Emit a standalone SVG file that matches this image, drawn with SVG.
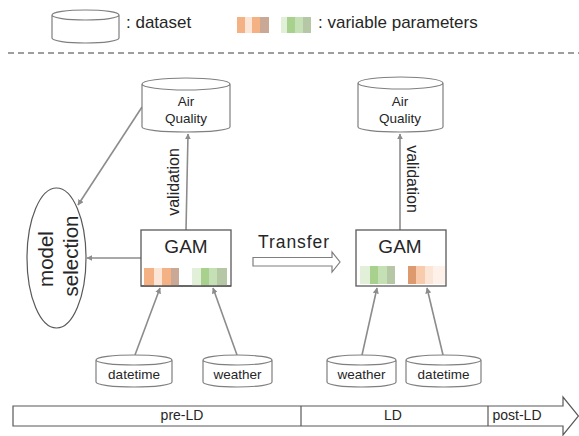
<svg xmlns="http://www.w3.org/2000/svg" width="579" height="436" viewBox="0 0 579 436">
<style>
.cyl{fill:#fff;stroke:#7f7f7f;stroke-width:1.2}
.t{font-family:"Liberation Sans",Arial,sans-serif;fill:#262626}
.conn{stroke:#8c8c8c;stroke-width:1.6;fill:none;marker-end:url(#ah)}
.box{fill:#fff;stroke:#595959;stroke-width:1.3}
</style>
<defs>
<marker id="ah" viewBox="0 0 10 10" refX="9" refY="5" markerWidth="6" markerHeight="6" orient="auto" markerUnits="userSpaceOnUse">
<path d="M0,0 L10,5 L0,10 Z" fill="#8c8c8c"/>
</marker>
</defs>
<rect width="579" height="436" fill="#fff"/>
<g id="legend">
<path class="cyl" d="M52,15 V38 A33.5,5 0 0 0 119,38 V15 A33.5,5 0 0 0 52,15 Z M52,15 A33.5,5 0 0 0 119,15"/>
<text class="t" x="126" y="28" font-size="17">: dataset</text>
<rect x="237" y="17" width="8" height="16" fill="#f4b183"/>
<rect x="245" y="17" width="7" height="16" fill="#fbe5d6"/>
<rect x="252" y="17" width="8" height="16" fill="#f4b183"/>
<rect x="260" y="17" width="9" height="16" fill="#c9a995"/>
<rect x="281" y="17" width="6" height="16" fill="#e2f0d9"/>
<rect x="287" y="17" width="8" height="16" fill="#a9d18e"/>
<rect x="295" y="17" width="8" height="16" fill="#c5e0b4"/>
<rect x="303" y="17" width="8" height="16" fill="#b5c7a5"/>
<text class="t" x="318" y="28" font-size="17">: variable parameters</text>
<line x1="8" y1="53" x2="579" y2="53" stroke="#7f7f7f" stroke-width="1.3" stroke-dasharray="6,4"/>
</g>
<g id="connectors">
<line class="conn" x1="186" y1="230" x2="188" y2="134"/>
<line class="conn" x1="142" y1="107" x2="78" y2="205"/>
<line class="conn" x1="141" y1="258" x2="87" y2="258"/>
<line class="conn" x1="135" y1="355" x2="160" y2="288"/>
<line class="conn" x1="237" y1="355" x2="213" y2="288"/>
<line class="conn" x1="400" y1="230" x2="400" y2="134"/>
<line class="conn" x1="362" y1="355" x2="377" y2="288"/>
<line class="conn" x1="443" y1="355" x2="427" y2="288"/>
<text class="t" font-size="16" transform="translate(179,182) rotate(-90)" text-anchor="middle">validation</text>
<text class="t" font-size="16" transform="translate(407,179) rotate(90)" text-anchor="middle">validation</text>
<path d="M253,257.5 H332 V252 L340,262 L332,272 V266 H253 Z" fill="#fff" stroke="#7f7f7f" stroke-width="1.2"/>
<text class="t" x="258" y="248" font-size="17.5" textLength="71" lengthAdjust="spacing">Transfer</text>
</g>
<g id="aq-left">
<path class="cyl" d="M142,84 V127 A44,5 0 0 0 230,127 V84 A44,6 0 0 0 142,84 Z M142,84 A44,6 0 0 0 230,84"/>
<text class="t" x="186" y="106" font-size="13.5" text-anchor="middle">Air</text>
<text class="t" x="186" y="123" font-size="13.5" text-anchor="middle">Quality</text>
</g>
<g id="aq-right">
<path class="cyl" d="M358,83 V127 A42.5,5 0 0 0 443,127 V83 A42.5,6 0 0 0 358,83 Z M358,83 A42.5,6 0 0 0 443,83"/>
<text class="t" x="400" y="106" font-size="13.5" text-anchor="middle">Air</text>
<text class="t" x="400" y="123" font-size="13.5" text-anchor="middle">Quality</text>
</g>
<g id="model-selection">
<ellipse cx="56.5" cy="258" rx="29.5" ry="70" fill="#fff" stroke="#595959" stroke-width="1.2"/>
<text class="t" font-size="20.5" transform="translate(53,259) rotate(-90)" text-anchor="middle">model</text>
<text class="t" font-size="20.5" transform="translate(78,256) rotate(-90)" text-anchor="middle">selection</text>
</g>
<g id="gam-left">
<rect class="box" x="141" y="230" width="90" height="56"/>
<text class="t" x="186" y="253" font-size="19" text-anchor="middle">GAM</text>
<rect x="144" y="268" width="10" height="18" fill="#f4b183"/>
<rect x="154" y="268" width="8" height="18" fill="#fbe5d6"/>
<rect x="162" y="268" width="9" height="18" fill="#f4b183"/>
<rect x="171" y="268" width="8" height="18" fill="#c9a995"/>
<rect x="192" y="268" width="9" height="18" fill="#e2f0d9"/>
<rect x="201" y="268" width="8" height="18" fill="#a9d18e"/>
<rect x="209" y="268" width="8" height="18" fill="#c5e0b4"/>
<rect x="217" y="268" width="10" height="18" fill="#b5c7a5"/>
<line x1="141" y1="286" x2="231" y2="286" stroke="#595959" stroke-width="1.3"/>
</g>
<g id="gam-right">
<rect class="box" x="356" y="230" width="90" height="56"/>
<text class="t" x="400" y="253" font-size="19" text-anchor="middle">GAM</text>
<rect x="360" y="266" width="10" height="18" fill="#e2f0d9"/>
<rect x="370" y="266" width="8" height="18" fill="#a9d18e"/>
<rect x="378" y="266" width="9" height="18" fill="#c5e0b4"/>
<rect x="387" y="266" width="8" height="18" fill="#b5c7a5"/>
<rect x="408" y="266" width="8" height="18" fill="#dd9a6e"/>
<rect x="416" y="266" width="9" height="18" fill="#f8cbad"/>
<rect x="425" y="266" width="8" height="18" fill="#fbe5d6"/>
<rect x="433" y="266" width="12" height="18" fill="#fdf1ea"/>
</g>
<g id="datetime-left">
<path class="cyl" d="M96,360 V382 A38,5 0 0 0 172,382 V360 A38,5 0 0 0 96,360 Z M96,360 A38,5 0 0 0 172,360"/>
<text class="t" x="134" y="379" font-size="13.5" text-anchor="middle">datetime</text>
</g>
<g id="weather-left">
<path class="cyl" d="M203,360 V382 A34.5,5 0 0 0 272,382 V360 A34.5,5 0 0 0 203,360 Z M203,360 A34.5,5 0 0 0 272,360"/>
<text class="t" x="237.5" y="379" font-size="13.5" text-anchor="middle">weather</text>
</g>
<g id="weather-right">
<path class="cyl" d="M327,360 V382 A34.5,5 0 0 0 396,382 V360 A34.5,5 0 0 0 327,360 Z M327,360 A34.5,5 0 0 0 396,360"/>
<text class="t" x="361.5" y="379" font-size="13.5" text-anchor="middle">weather</text>
</g>
<g id="datetime-right">
<path class="cyl" d="M406,360 V382 A37.5,5 0 0 0 481,382 V360 A37.5,5 0 0 0 406,360 Z M406,360 A37.5,5 0 0 0 481,360"/>
<text class="t" x="443.5" y="379" font-size="13.5" text-anchor="middle">datetime</text>
</g>
<g id="timeline">
<path d="M13,406 H563 V397 L578.5,416 L563,435 V426 H13 Z" fill="#fff" stroke="#595959" stroke-width="1.2"/>
<line x1="301" y1="406" x2="301" y2="426" stroke="#595959" stroke-width="1.2"/>
<line x1="488" y1="406" x2="488" y2="426" stroke="#595959" stroke-width="1.2"/>
<text class="t" x="182" y="420" font-size="14" text-anchor="middle">pre-LD</text>
<text class="t" x="393" y="420" font-size="14" text-anchor="middle">LD</text>
<text class="t" x="517" y="420" font-size="14" text-anchor="middle">post-LD</text>
</g>
</svg>
